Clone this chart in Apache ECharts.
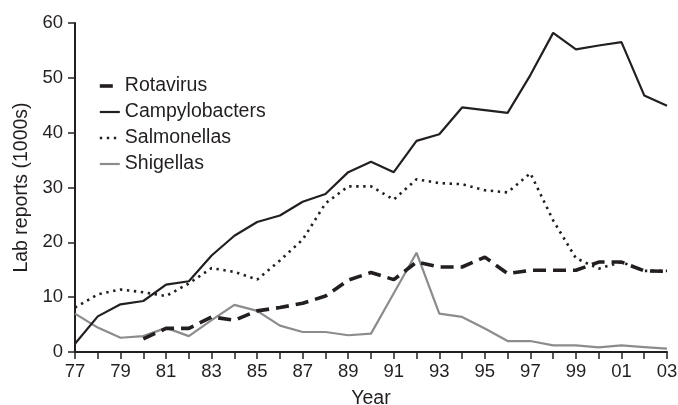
<!DOCTYPE html>
<html>
<head>
<meta charset="utf-8">
<script src="https://cdn.jsdelivr.net/npm/echarts@6/dist/echarts.min.js"></script>
<style>
  html, body { margin: 0; padding: 0; background: #fff; }
  #chart { width: 678px; height: 405px; }
</style>
</head>
<body>
<div id="chart"></div>
<script>
// Years 1977–2003, labelled by their last two digits
const years = ['77','78','79','80','81','82','83','84','85','86','87','88','89','90',
               '91','92','93','94','95','96','97','98','99','00','01','02','03'];

// Laboratory reports, thousands per year
const rotavirus = [null, null, null, 2.4, 4.3, 4.3, 6.4, 5.8, 7.5, 8.1, 8.9, 10.2, 13.1, 14.5,
                   13.2, 16.4, 15.5, 15.5, 17.3, 14.3, 14.9, 14.9, 14.9, 16.4, 16.4, 14.8, 14.7];
const campylobacters = [1.5, 6.5, 8.7, 9.3, 12.3, 12.9, 17.6, 21.2, 23.7, 24.9, 27.4, 28.8, 32.8, 34.7,
                        32.8, 38.5, 39.7, 44.6, 44.1, 43.6, 50.5, 58.2, 55.2, 55.9, 56.5, 46.8, 44.9];
const salmonellas = [8.1, 10.5, 11.4, 10.9, 10.2, 12.5, 15.3, 14.6, 13.2, 16.7, 20.5, 27.1, 30.2, 30.2,
                     27.8, 31.5, 30.8, 30.6, 29.5, 29.1, 32.6, 24.0, 17.1, 15.2, 16.4, 14.8, 14.8];
const shigellas = [7.0, 4.45, 2.6, 2.9, 4.4, 2.9, 5.8, 8.6, 7.5, 4.8, 3.65, 3.65, 3.05, 3.35,
                   10.7, 18.1, 7.0, 6.4, 4.3, 2.0, 2.0, 1.2, 1.2, 0.86, 1.2, 0.9, 0.6];

const yTicks = { min: 0, max: 60, step: 10 };

const ink = '#231f20';
const grey = '#8c8c8c';
const font = 'Liberation Sans, Arial, Helvetica, sans-serif';
const tickFont = 18.5;
const textFont = 19.5;

// Line styles shared by each series and its legend sample
const styles = {
  Rotavirus: { color: ink, width: 3.6, type: [13, 7], cap: 'butt' },
  Campylobacters: { color: ink, width: 2.2, type: 'solid' },
  Salmonellas: { color: ink, width: 2.6, type: [2.4, 4.6], cap: 'butt' },
  Shigellas: { color: grey, width: 2.2, type: 'solid' }
};

const chart = echarts.init(document.getElementById('chart'), null, { renderer: 'canvas' });

chart.setOption({
  animation: false,
  textStyle: { fontFamily: font, color: ink },
  grid: { left: 75, right: 11, top: 23, bottom: 53, containLabel: false, outerBoundsMode: 'none' },
  legend: {
    orient: 'vertical',
    left: 93,
    top: 71,
    itemWidth: 20,
    itemHeight: 14,
    itemGap: 6,
    // hide the marker dot, keep only the line sample
    itemStyle: { opacity: 0 },
    textStyle: { fontFamily: font, fontSize: textFont, color: ink },
    data: ['Rotavirus', 'Campylobacters', 'Salmonellas', 'Shigellas'].map(n => ({
      name: n,
      lineStyle: { width: styles[n].width, type: styles[n].type, cap: styles[n].cap || 'butt' }
    }))
  },
  xAxis: {
    type: 'category',
    data: years,
    boundaryGap: false,
    name: 'Year',
    nameLocation: 'middle',
    nameGap: 37,
    nameTextStyle: { fontFamily: font, fontSize: textFont, color: ink },
    axisLine: { lineStyle: { color: ink, width: 2 } },
    axisTick: { show: true, interval: 0, length: 7, lineStyle: { color: ink, width: 1.5 } },
    axisLabel: { interval: 1, fontFamily: font, fontSize: tickFont, color: ink, margin: 10 },
    splitLine: { show: false }
  },
  yAxis: {
    type: 'value',
    min: yTicks.min,
    max: yTicks.max,
    interval: yTicks.step,
    name: 'Lab reports (1000s)',
    nameLocation: 'middle',
    nameGap: 40,
    nameTextStyle: { fontFamily: font, fontSize: textFont, color: ink },
    axisLine: { show: true, lineStyle: { color: ink, width: 2 } },
    axisTick: { show: true, length: 7, lineStyle: { color: ink, width: 1.5 } },
    axisLabel: { fontFamily: font, fontSize: tickFont, color: ink, margin: 12 },
    splitLine: { show: false }
  },
  series: [
    {
      name: 'Shigellas', type: 'line', data: shigellas, symbol: 'none', z: 2,
      lineStyle: styles.Shigellas, itemStyle: { color: grey }
    },
    {
      name: 'Salmonellas', type: 'line', data: salmonellas, symbol: 'none', z: 3,
      lineStyle: styles.Salmonellas, itemStyle: { color: ink }
    },
    {
      name: 'Campylobacters', type: 'line', data: campylobacters, symbol: 'none', z: 4,
      lineStyle: styles.Campylobacters, itemStyle: { color: ink }
    },
    {
      name: 'Rotavirus', type: 'line', data: rotavirus, symbol: 'none', z: 5,
      lineStyle: styles.Rotavirus, itemStyle: { color: ink }
    }
  ]
});
</script>
</body>
</html>
